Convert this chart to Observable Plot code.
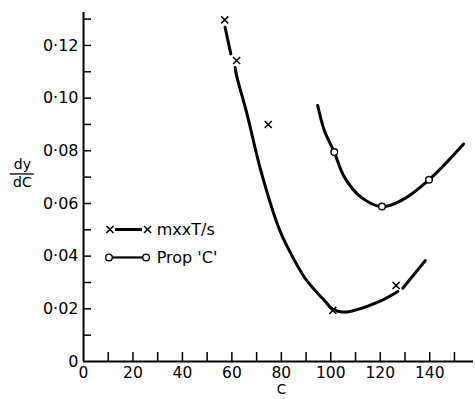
<!DOCTYPE html>
<html><head><meta charset="utf-8">
<script src="https://cdn.jsdelivr.net/npm/d3@7"></script>
<script src="https://cdn.jsdelivr.net/npm/@observablehq/plot@0.6"></script>
<style>body{margin:0;background:#fff}</style>
</head><body><div id="chart"></div>
<script>
// Series names
const seriesNames = ["mxxT/s", "Prop 'C'"];
// Measured points (C, dy/dC)
const mxxC = [57.1, 61.9, 74.7, 100.8, 126.4];
const mxxY = [0.1297, 0.1143, 0.0900, 0.0194, 0.0289];
const propC = [101.4, 120.7, 139.7];
const propY = [0.0795, 0.0588, 0.0690];
// Hand-drawn fitted curves, traced (null = break in the pen line)
const mxxCurveC = [57.25, 59.56, null, 61.3, 61.87, 66.05, 71.7, 79.1, 82.5, 89.3, 93.3, 97.4, 100.8, 104.5, 108.2, 119.0, 127.1, null, 129.1, 138.2];
const mxxCurveY = [0.1269, 0.1168, null, 0.1116, 0.1086, 0.0942, 0.0725, 0.0504, 0.0434, 0.0320, 0.0273, 0.0232, 0.0198, 0.0188, 0.0191, 0.0225, 0.0266, null, 0.0278, 0.0383];
const propCurveC = [94.7, 97.4, 101.4, 105.5, 112.2, 120.7, 128.4, 139.7, 153.7];
const propCurveY = [0.0972, 0.0877, 0.0795, 0.0700, 0.0624, 0.0588, 0.0611, 0.0690, 0.0826];
// Ticks
const yLabelTicks = [0, 0.02, 0.04, 0.06, 0.08, 0.10, 0.12];
const yTickLabels = ["0", "0·02", "0·04", "0·06", "0·08", "0·10", "0·12"];
const yTicks = [0.01, 0.02, 0.03, 0.04, 0.05, 0.06, 0.07, 0.08, 0.09, 0.10, 0.11, 0.12, 0.13];
const xLabelTicks = [0, 20, 40, 60, 80, 100, 120, 140];
const xTickLabels = ["0", "20", "40", "60", "80", "100", "120", "140"];
const xTicks = [10, 20, 30, 40, 50, 60, 70, 80, 90, 100, 110, 120, 130, 140, 150];
const xLabel = "C";
const yLabelTop = "dy";
const yLabelBottom = "dC";

// build tables
const mxxPts = mxxC.map((c, i) => ({c, y: mxxY[i]}));
const propPts = propC.map((c, i) => ({c, y: propY[i]}));
const mxxCurve = mxxCurveC.map((c, i) => ({c, y: mxxCurveY[i]}));
const propCurve = propCurveC.map((c, i) => ({c, y: propCurveY[i]}));

// legend layout (in data units of the plot frame)
const legendRowY = [0.0501, 0.0395];
const legend = seriesNames.map((name, i) => ({name, y: legendRowY[i]}));

const font = "DejaVu Sans";
const chart = Plot.plot({
  width: 475, height: 399,
  marginLeft: 83, marginRight: 2, marginTop: 12, marginBottom: 38,
  x: {domain: [0, 157.7], label: null},
  y: {domain: [0, 0.1325], label: null},
  style: {fontFamily: font, fontSize: "16px", background: "white", color: "black"},
  marks: [
    // axis lines
    Plot.ruleY([0], {x1: 0, x2: 157.7, strokeWidth: 2}),
    Plot.ruleX([0], {y1: 0, y2: 0.1325, strokeWidth: 2}),
    // inward ticks
    Plot.axisY(yTicks, {tickSize: -8, tickFormat: () => "", strokeWidth: 1.5, label: null}),
    Plot.axisX(xTicks, {tickSize: -9, tickFormat: () => "", strokeWidth: 1.5, label: null}),
    // tick labels
    Plot.axisY(yLabelTicks, {tickSize: 0, tickPadding: 5, fontSize: 16, label: null,
      tickFormat: d => yTickLabels[yLabelTicks.indexOf(d)]}),
    Plot.axisX(xLabelTicks, {tickSize: 0, tickPadding: 5, fontSize: 15.5, label: null,
      tickFormat: d => xTickLabels[xLabelTicks.indexOf(d)]}),
    // axis labels
    Plot.text([xLabel], {x: 80, frameAnchor: "bottom", dy: 32.5, fontSize: 13.5}),
    Plot.text([yLabelTop], {x: -24.7, y: 0.0748, fontSize: 14}),
    Plot.text([yLabelBottom], {x: -24.7, y: 0.0680, fontSize: 14}),
    Plot.ruleY([0.0712], {x1: -29.6, x2: -19.9, strokeWidth: 1.3}),
    // curves
    Plot.line(mxxCurve, {x: "c", y: "y", curve: "catmull-rom", strokeWidth: 3}),
    Plot.line(propCurve, {x: "c", y: "y", curve: "catmull-rom", strokeWidth: 3}),
    // points
    Plot.dot(mxxPts, {x: "c", y: "y", symbol: "times", r: 3.3, stroke: "black", strokeWidth: 1.5}),
    Plot.dot(propPts, {x: "c", y: "y", symbol: "circle", r: 3.3, fill: "white", stroke: "black", strokeWidth: 1.4}),
    // legend
    Plot.ruleY([legend[0]], {y: "y", x1: 12.9, x2: 23.9, strokeWidth: 3}),
    Plot.ruleY([legend[1]], {y: "y", x1: 11.7, x2: 24.2, strokeWidth: 2.2}),
    Plot.dot([legend[0]], {x: 10.7, y: "y", symbol: "times", r: 3.3, stroke: "black", strokeWidth: 1.5}),
    Plot.dot([legend[0]], {x: 25.9, y: "y", symbol: "times", r: 3.3, stroke: "black", strokeWidth: 1.5}),
    Plot.dot([legend[1]], {x: 10.3, y: "y", symbol: "circle", r: 3.3, fill: "white", stroke: "black", strokeWidth: 1.4}),
    Plot.dot([legend[1]], {x: 25.3, y: "y", symbol: "circle", r: 3.3, fill: "white", stroke: "black", strokeWidth: 1.4}),
    Plot.text(legend, {x: 29.6, y: "y", text: "name", textAnchor: "start", fontSize: 16})
  ]
});
document.getElementById("chart").appendChild(chart);
</script>
</body></html>
